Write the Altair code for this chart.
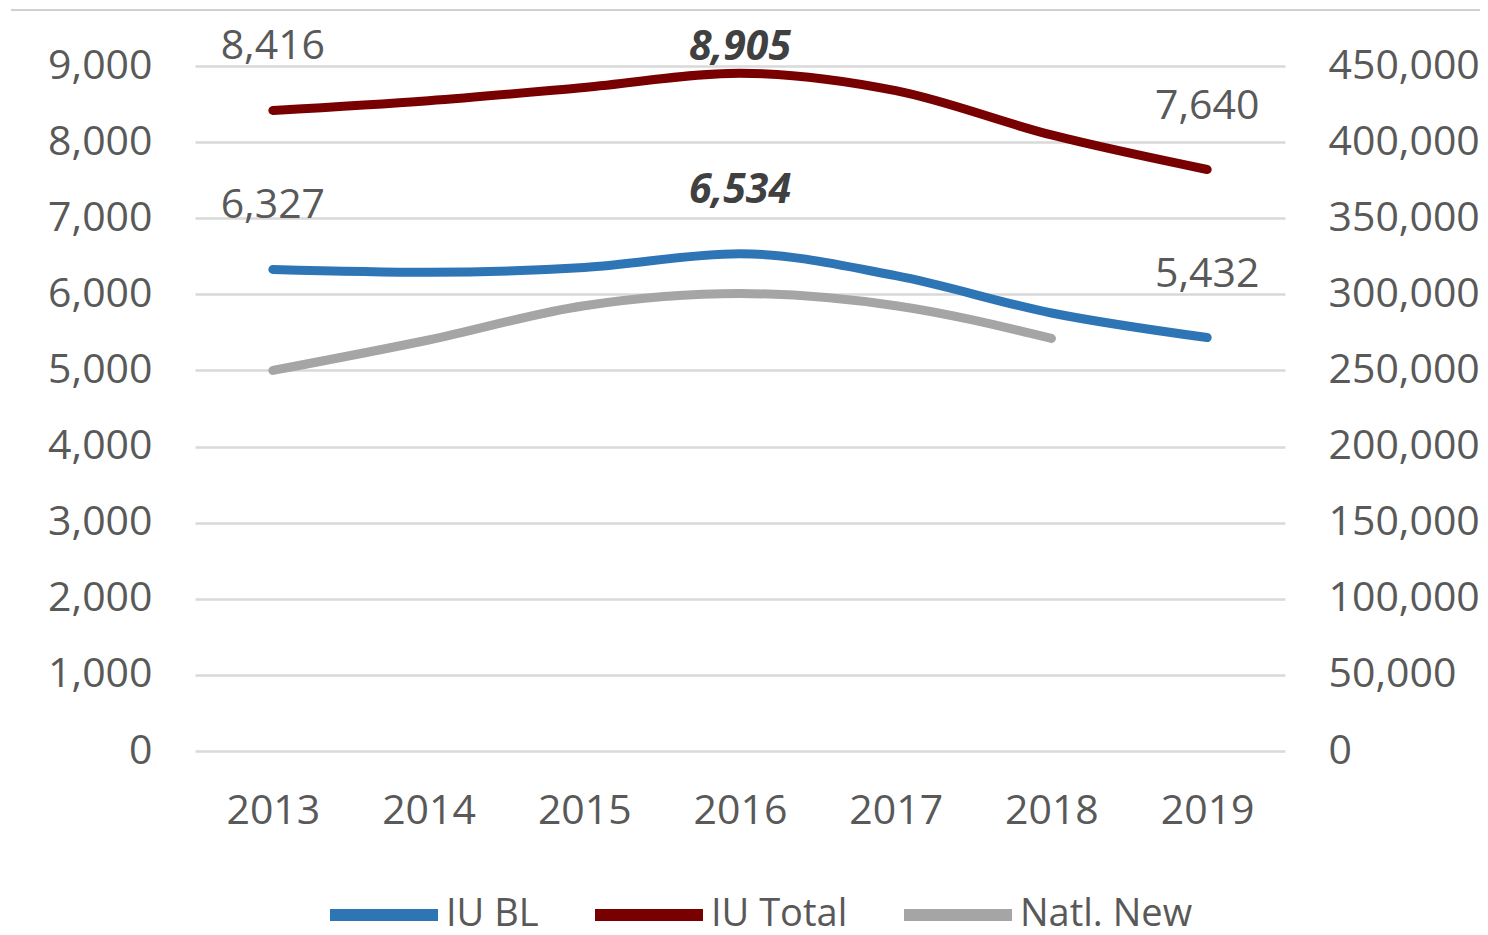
import altair as alt
import pandas as pd

years = ["2013", "2014", "2015", "2016", "2017", "2018", "2019"]
iu_bl = [6327, 6290, 6353, 6534, 6245, 5755, 5432]
iu_total = [8416, 8544, 8718, 8905, 8676, 8094, 7640]
natl_new = [250000, 270000, 292500, 300500, 292500, 271000, None]

series_names = ["IU BL", "IU Total", "Natl. New"]
series_colors = ["#2E75B6", "#780000", "#A5A5A5"]

label_years = ["2013", "2016", "2019"]
emph_year = "2016"

left_ticks = list(range(0, 9001, 1000))
right_ticks = list(range(0, 450001, 50000))

FONT = "Open Sans"
TXT = "#595959"
FS = 41

rows = []
for i, yr in enumerate(years):
    rows.append({"year": yr, "series": "IU BL", "value": iu_bl[i]})
    rows.append({"year": yr, "series": "IU Total", "value": iu_total[i]})
left_df = pd.DataFrame(rows)

right_df = pd.DataFrame(
    [{"year": yr, "series": "Natl. New", "value": v} for yr, v in zip(years, natl_new) if v is not None]
)

x_enc = alt.X(
    "year:O",
    sort=years,
    scale=alt.Scale(type="point", padding=0.5),
    axis=alt.Axis(
        title=None, labelAngle=0, domain=False, ticks=False,
        labelFontSize=FS, labelFont=FONT, labelColor=TXT, labelPadding=40,
    ),
)

color_enc = alt.Color(
    "series:N",
    scale=alt.Scale(domain=series_names, range=series_colors),
    legend=alt.Legend(
        title=None, orient="none", legendX=129, legendY=789, direction="horizontal",
        columns=3, symbolType="stroke", symbolSize=108 * 108, symbolStrokeWidth=12,
        labelFontSize=38, labelFont=FONT, labelColor=TXT, labelOffset=2,
        columnPadding=32, labelLimit=400,
    ),
)

y_left = alt.Y(
    "value:Q",
    scale=alt.Scale(domain=[0, 9000]),
    axis=alt.Axis(
        title=None, values=left_ticks, format=",.0f", domain=False, ticks=False,
        grid=True, gridColor="#D9D9D9", gridWidth=2.5,
        labelFontSize=FS, labelFont=FONT, labelColor=TXT, labelPadding=43,
    ),
)

y_right = alt.Y(
    "value:Q",
    scale=alt.Scale(domain=[0, 450000]),
    axis=alt.Axis(
        title=None, orient="right", values=right_ticks, format=",.0f", domain=False,
        ticks=False, grid=False,
        labelFontSize=FS, labelFont=FONT, labelColor=TXT, labelPadding=43,
    ),
)

border = alt.Chart(alt.Data(values=[{}])).mark_rule(color="#D0D0D0", strokeWidth=2).encode(
    x=alt.value(-184), x2=alt.value(1293), y=alt.value(-56)
)

left_base = alt.Chart(left_df)

lines_left = left_base.mark_line(strokeWidth=9, strokeCap="round", interpolate="monotone").encode(
    x=x_enc, y=y_left, color=color_enc
)

lbl_text = alt.Text("value:Q", format=",.0f")

normal_labels = left_base.transform_filter(
    alt.FieldOneOfPredicate(field="year", oneOf=[y for y in label_years if y != emph_year])
).mark_text(dy=-63, fontSize=FS, font=FONT, color=TXT).encode(x=x_enc, y=y_left, text=lbl_text)

emph_bl = left_base.transform_filter(
    (alt.datum.year == emph_year) & (alt.datum.series == "IU BL")
).mark_text(dy=-63, fontSize=FS, font=FONT, color="#404040", fontStyle="italic", fontWeight="bold").encode(
    x=x_enc, y=y_left, text=lbl_text
)

emph_total = left_base.transform_filter(
    (alt.datum.year == emph_year) & (alt.datum.series == "IU Total")
).mark_text(dy=-25, fontSize=FS, font=FONT, color="#404040", fontStyle="italic", fontWeight="bold").encode(
    x=x_enc, y=y_left, text=lbl_text
)

left_layer = alt.layer(border, lines_left, normal_labels, emph_bl, emph_total)

lines_right = alt.Chart(right_df).mark_line(strokeWidth=9, strokeCap="round", interpolate="monotone").encode(
    x=x_enc, y=y_right, color=color_enc
)

chart = (
    alt.layer(left_layer, lines_right)
    .resolve_scale(y="independent")
    .properties(
        width=1090, height=685,
        autosize=alt.AutoSizeParams(type="none"),
        padding={"left": 187, "top": 58, "right": 195, "bottom": 184},
        background="white",
    )
    .configure_view(stroke=None)
)

chart.save("out.html", embed_options={"renderer": "svg", "actions": False})
